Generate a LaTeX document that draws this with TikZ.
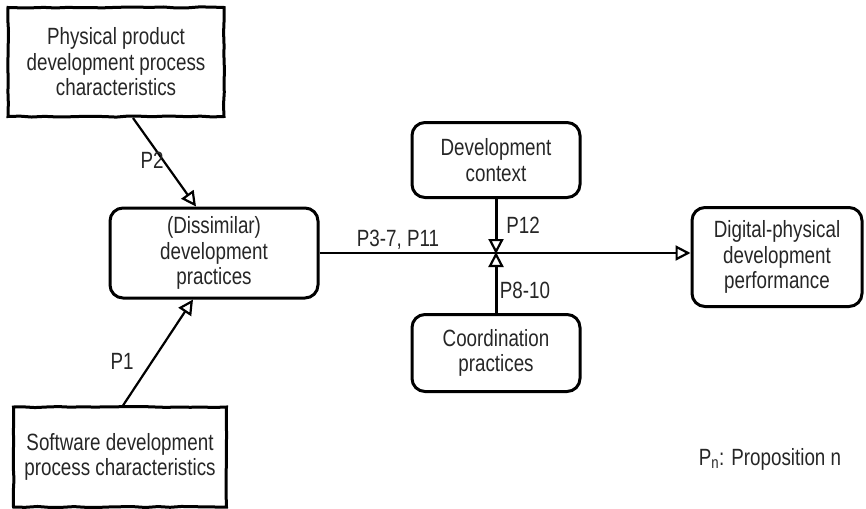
\documentclass[tikz,border=0pt]{standalone}
\usepackage{fontspec}
\setmainfont{Liberation Sans}[FakeStretch=0.8]
\usetikzlibrary{arrows.meta,decorations.pathmorphing,calc}
\tikzset{
  sketch/.style={decorate, decoration={random steps, segment length=12pt, amplitude=0.6pt}},
  factorbox/.style={draw, line width=3pt, align=center, text=black!85, inner sep=0pt},
  roundbox/.style={factorbox, rounded corners=13pt},
  link/.style={line width=2.2pt, -{Triangle[open, length=15pt, width=15pt, line width=2.2pt]}},
  prop/.style={text=black!85}
}
\begin{document}
\begin{tikzpicture}[x=1pt, y=-1pt, font=\fontsize{23.5}{25.5}\selectfont]
  \useasboundingbox (0,0) rectangle (866,508);
  % factors
  \node[factorbox, sketch, minimum width=216pt, minimum height=109pt] (phys) at (116,62) {Physical product\\development process\\characteristics};
  \node[roundbox, minimum width=208pt, minimum height=90pt] (diss) at (214,253) {(Dissimilar)\\development\\practices};
  \node[roundbox, minimum width=168pt, minimum height=75pt] (ctx) at (496,160) {Development\\context};
  \node[roundbox, minimum width=168pt, minimum height=77pt] (coord) at (496,353) {Coordination\\practices};
  \node[roundbox, minimum width=170pt, minimum height=99pt] (dig) at (777,257) {Digital-physical\\development\\performance};
  \node[factorbox, sketch, minimum width=213pt, minimum height=100pt] (soft) at (120,457) {Software development\\process characteristics};
  \coordinate (mid) at (diss.east -| ctx.south);
  % propositions
  \draw[link] ([xshift=17pt]phys.south) -- ([xshift=-18pt]diss.north);
  \draw[link] ([xshift=3pt]soft.north) -- ([xshift=-21pt]diss.south);
  \draw[link] (diss.east) -- (diss.east -| dig.west);
  \draw[link, line width=3pt] (ctx.south) -- ([yshift=-1pt]mid);
  \draw[link, line width=3pt] (coord.north) -- ([yshift=1pt]mid);
  \node[prop] (p2) at (152,160) {P2};
  \node[prop] (p1) at (122,361) {P1};
  \node[prop] (p37) at (398,240) {P3-7, P11};
  \node[prop] (p12) at (523,225) {P12};
  \node[prop] (p810) at (525,290) {P8-10};
  \node[prop] (legend) at (770,459) {P\textsubscript{n}: Proposition n};
\end{tikzpicture}
\end{document}
